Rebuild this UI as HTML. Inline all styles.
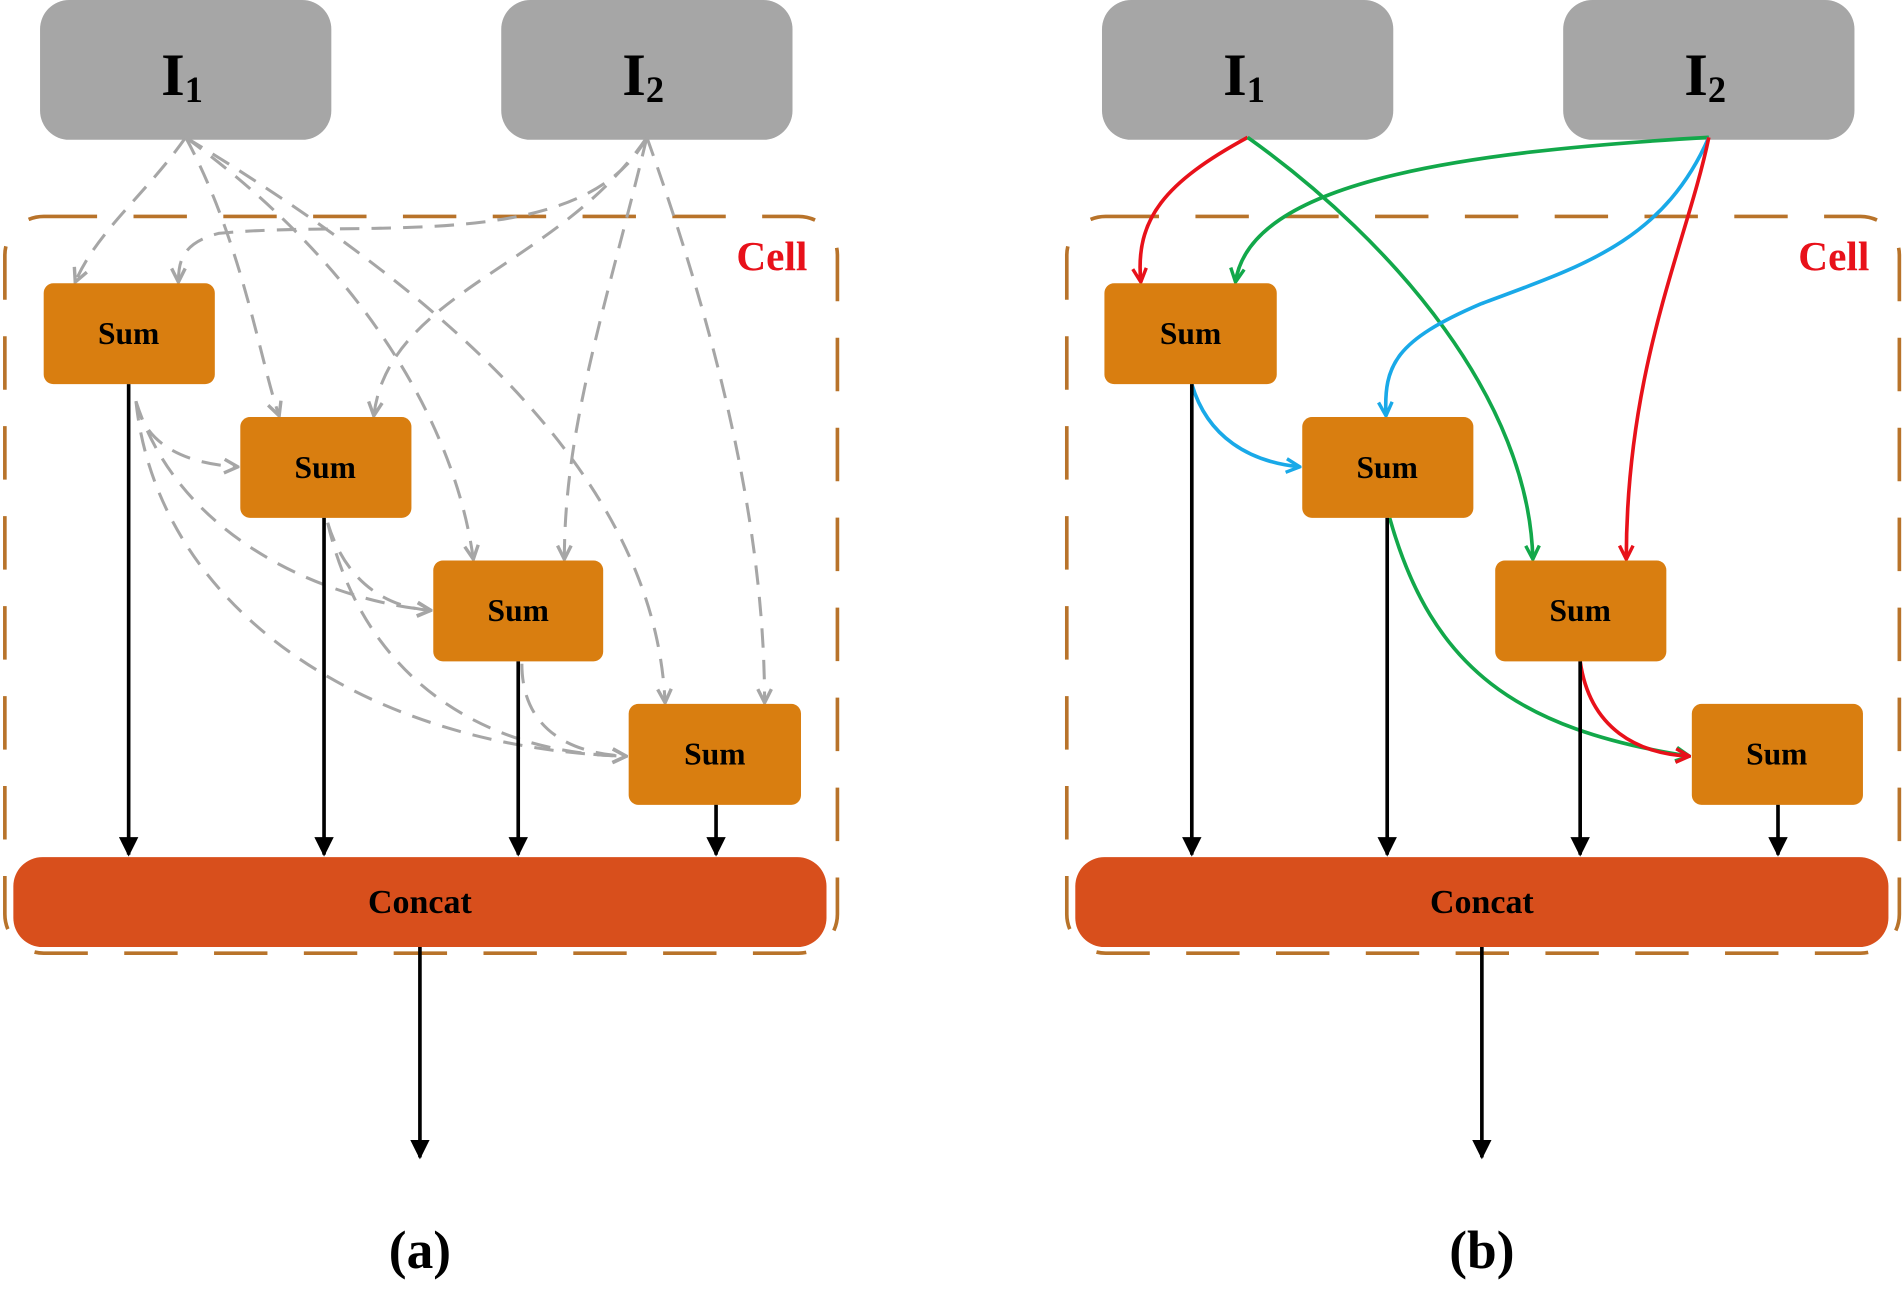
<!DOCTYPE html>
<html><head><meta charset="utf-8"><style>
html,body{margin:0;padding:0;background:#fff;}
svg{display:block;}
text{font-family:"Liberation Serif",serif;font-weight:bold;}
</style></head><body>
<svg width="1903" height="1313" viewBox="0 0 1568 1080" preserveAspectRatio="none" xmlns="http://www.w3.org/2000/svg">
<defs>
<marker id="mk" viewBox="0 0 10 10" refX="9" refY="5" markerWidth="16" markerHeight="16" markerUnits="userSpaceOnUse" orient="auto"><path d="M0,0 L10,5 L0,10 z" fill="#000"/></marker>
<marker id="mg" viewBox="0 0 10 10" refX="9" refY="5" markerWidth="14" markerHeight="14" markerUnits="userSpaceOnUse" orient="auto"><path d="M1,1 L9,5 L1,9" fill="none" stroke="#a6a6a6" stroke-width="2"/></marker>
<marker id="mr" viewBox="0 0 10 10" refX="9" refY="5" markerWidth="14" markerHeight="14" markerUnits="userSpaceOnUse" orient="auto"><path d="M1,1 L9,5 L1,9" fill="none" stroke="#e8111a" stroke-width="2"/></marker>
<marker id="mgr" viewBox="0 0 10 10" refX="9" refY="5" markerWidth="14" markerHeight="14" markerUnits="userSpaceOnUse" orient="auto"><path d="M1,1 L9,5 L1,9" fill="none" stroke="#12a84a" stroke-width="2"/></marker>
<marker id="mb" viewBox="0 0 10 10" refX="9" refY="5" markerWidth="14" markerHeight="14" markerUnits="userSpaceOnUse" orient="auto"><path d="M1,1 L9,5 L1,9" fill="none" stroke="#19a9e8" stroke-width="2"/></marker>
</defs>

<!-- Panel A -->
<g>
<rect x="4" y="178" width="686" height="606" rx="32" fill="none" stroke="#b8732a" stroke-width="3" stroke-dasharray="44 30"/>
<text x="636" y="222" font-size="34" fill="#e8111a" text-anchor="middle">Cell</text>
<rect x="33" y="0" width="240" height="115" rx="24" fill="#a6a6a6"/>
<rect x="413" y="0" width="240" height="115" rx="24" fill="#a6a6a6"/>
<text x="150" y="78" font-size="50" text-anchor="middle">I<tspan font-size="30" dy="6">1</tspan></text>
<text x="530" y="78" font-size="50" text-anchor="middle">I<tspan font-size="30" dy="6">2</tspan></text>

<g fill="none" stroke="#a6a6a6" stroke-width="2.5" stroke-dasharray="16 10" marker-end="url(#mg)">
<path d="M153 113 C 120 160, 80 190, 62 232"/>
<path d="M153 113 C 200 200, 215 300, 230 342"/>
<path d="M153 113 C 300 220, 375 350, 390 460"/>
<path d="M153 113 C 380 250, 540 400, 548 578"/>
<path d="M533 113 C 480 210, 300 180, 180 192 C 150 200, 147 215, 147 232"/>
<path d="M533 113 C 460 220, 320 240, 308 342"/>
<path d="M533 113 C 500 250, 465 350, 465 460"/>
<path d="M533 113 C 600 300, 630 450, 630 578"/>
<path d="M112 330 C 120 370, 160 382, 196 384"/>
<path d="M112 330 C 150 450, 280 495, 355 502"/>
<path d="M112 330 C 130 500, 300 615, 516 622"/>
<path d="M270 430 C 285 480, 320 500, 355 502"/>
<path d="M270 430 C 300 560, 400 620, 516 622"/>
<path d="M430 546 C 430 600, 470 620, 516 622"/>
</g>

<g fill="#d97e10">
<rect x="36" y="233" width="141" height="83" rx="8"/>
<rect x="198" y="343" width="141" height="83" rx="8"/>
<rect x="357" y="461" width="140" height="83" rx="8"/>
<rect x="518" y="579" width="142" height="83" rx="8"/>
</g>
<g font-size="26" text-anchor="middle">
<text x="106" y="283">Sum</text><text x="268" y="393">Sum</text><text x="427" y="511">Sum</text><text x="589" y="629">Sum</text>
</g>
<rect x="11" y="705" width="670" height="74" rx="24" fill="#d84f1c"/>
<text x="346" y="751" font-size="28" text-anchor="middle">Concat</text>
<g stroke="#000" stroke-width="3" marker-end="url(#mk)">
<line x1="106" y1="316" x2="106" y2="703"/>
<line x1="267" y1="426" x2="267" y2="703"/>
<line x1="427" y1="544" x2="427" y2="703"/>
<line x1="590" y1="662" x2="590" y2="703"/>
<line x1="346" y1="779" x2="346" y2="952"/>
</g>
<text x="346" y="1043" font-size="44" text-anchor="middle">(a)</text>
</g>

<!-- Panel B -->
<g>
<rect x="879" y="178" width="686" height="606" rx="32" fill="none" stroke="#b8732a" stroke-width="3" stroke-dasharray="44 30"/>
<text x="1511" y="222" font-size="34" fill="#e8111a" text-anchor="middle">Cell</text>
<rect x="908" y="0" width="240" height="115" rx="24" fill="#a6a6a6"/>
<rect x="1288" y="0" width="240" height="115" rx="24" fill="#a6a6a6"/>
<text x="1025" y="78" font-size="50" text-anchor="middle">I<tspan font-size="30" dy="6">1</tspan></text>
<text x="1405" y="78" font-size="50" text-anchor="middle">I<tspan font-size="30" dy="6">2</tspan></text>

<g fill="none" stroke-width="3">
<path d="M1028 113 C 960 150, 935 180, 940 232" stroke="#e8111a" marker-end="url(#mr)"/>
<path d="M1028 113 C 1150 200, 1260 330, 1263 460" stroke="#12a84a" marker-end="url(#mgr)"/>
<path d="M1408 113 C 1200 125, 1030 150, 1018 232" stroke="#12a84a" marker-end="url(#mgr)"/>
<path d="M1408 113 C 1370 200, 1300 220, 1220 250 C 1150 280, 1140 300, 1142 342" stroke="#19a9e8" marker-end="url(#mb)"/>
<path d="M1408 113 C 1390 200, 1340 300, 1340 460" stroke="#e8111a" marker-end="url(#mr)"/>
<path d="M982 316 C 995 360, 1030 380, 1071 384" stroke="#19a9e8" marker-end="url(#mb)"/>
<path d="M1145 426 C 1180 550, 1250 600, 1392 622" stroke="#12a84a" marker-end="url(#mgr)"/>
<path d="M1302 544 C 1310 600, 1350 620, 1392 622" stroke="#e8111a" marker-end="url(#mr)"/>
</g>

<g fill="#d97e10">
<rect x="910" y="233" width="142" height="83" rx="8"/>
<rect x="1073" y="343" width="141" height="83" rx="8"/>
<rect x="1232" y="461" width="141" height="83" rx="8"/>
<rect x="1394" y="579" width="141" height="83" rx="8"/>
</g>
<g font-size="26" text-anchor="middle">
<text x="981" y="283">Sum</text><text x="1143" y="393">Sum</text><text x="1302" y="511">Sum</text><text x="1464" y="629">Sum</text>
</g>
<rect x="886" y="705" width="670" height="74" rx="24" fill="#d84f1c"/>
<text x="1221" y="751" font-size="28" text-anchor="middle">Concat</text>
<g stroke="#000" stroke-width="3" marker-end="url(#mk)">
<line x1="982" y1="316" x2="982" y2="703"/>
<line x1="1143" y1="426" x2="1143" y2="703"/>
<line x1="1302" y1="544" x2="1302" y2="703"/>
<line x1="1465" y1="662" x2="1465" y2="703"/>
<line x1="1221" y1="779" x2="1221" y2="952"/>
</g>
<text x="1221" y="1043" font-size="44" text-anchor="middle">(b)</text>
</g>
</svg>
</body></html>
